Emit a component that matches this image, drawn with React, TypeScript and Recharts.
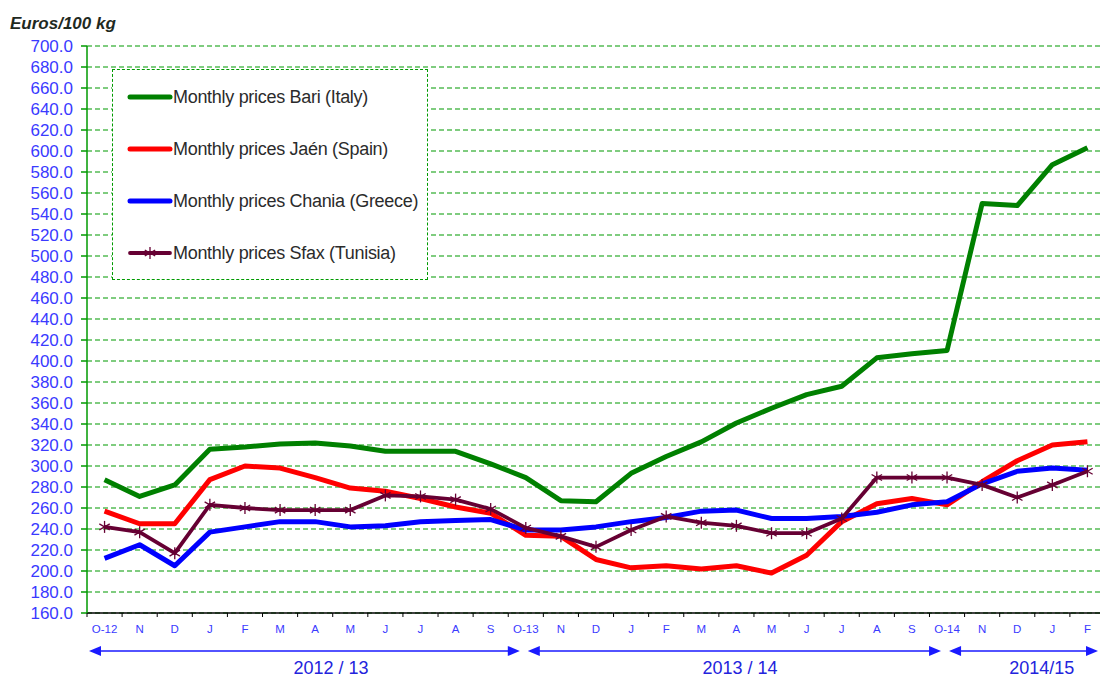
import React from 'react';
import { CartesianGrid, Legend, Line, LineChart, XAxis, YAxis } from 'recharts';

// Monthly olive oil prices, Oct 2012 - Feb 2015
const months = [
  '2012-10', '2012-11', '2012-12', '2013-01', '2013-02', '2013-03', '2013-04', '2013-05', '2013-06', '2013-07',
  '2013-08', '2013-09', '2013-10', '2013-11', '2013-12', '2014-01', '2014-02', '2014-03', '2014-04', '2014-05',
  '2014-06', '2014-07', '2014-08', '2014-09', '2014-10', '2014-11', '2014-12', '2015-01', '2015-02',
];
const tickLabels = [
  'O-12', 'N', 'D', 'J', 'F', 'M', 'A', 'M', 'J', 'J', 'A', 'S',
  'O-13', 'N', 'D', 'J', 'F', 'M', 'A', 'M', 'J', 'J', 'A', 'S',
  'O-14', 'N', 'D', 'J', 'F',
];
const bari = [287, 271, 282, 316, 318, 321, 322, 319, 314, 314, 314, 302, 289, 267, 266, 293, 309, 323, 341, 355, 368, 376, 403, 407, 410, 550, 548, 587, 603];
const jaen = [257, 245, 245, 287, 300, 298, 289, 279, 276, 269, 261, 255, 234, 233, 211, 203, 205, 202, 205, 198, 215, 247, 264, 269, 263, 285, 305, 320, 323];
const chania = [212, 225, 205, 237, 242, 247, 247, 242, 243, 247, 248, 249, 239, 239, 242, 247, 251, 257, 258, 250, 250, 252, 256, 263, 266, 283, 295, 298, 296];
const sfax = [242, 237, 217, 263, 260, 258, 258, 258, 272, 271, 268, 259, 241, 233, 223, 239, 252, 246, 243, 236, 236, 250, 289, 289, 289, 282, 270, 282, 295];
const yTicks = [160, 180, 200, 220, 240, 260, 280, 300, 320, 340, 360, 380, 400, 420, 440, 460, 480, 500, 520, 540, 560, 580, 600, 620, 640, 660, 680, 700];

// marketing years shown under the axis (start / end category index)
const periods = [
  { label: '2012 / 13', from: 0, to: 12, labelAt: 6.45 },
  { label: '2013 / 14', from: 12, to: 24, labelAt: 18.1 },
  { label: '2014/15', from: 24, to: 29, labelAt: 26.7 },
];

const series = [
  { key: 'bari', name: 'Monthly prices Bari (Italy)', color: '#008000', width: 5 },
  { key: 'jaen', name: 'Monthly prices Jaén (Spain)', color: '#ff0000', width: 5 },
  { key: 'chania', name: 'Monthly prices Chania (Greece)', color: '#0000ff', width: 5 },
  { key: 'sfax', name: 'Monthly prices Sfax (Tunisia)', color: '#660033', width: 3.8 },
];

const data = months.map((m, i) => ({
  month: m,
  bari: bari[i],
  jaen: jaen[i],
  chania: chania[i],
  sfax: sfax[i],
}));

const W = 1110;
const H = 677;
const PLOT_LEFT = 87;
const PLOT_RIGHT = 1105;
const BAND = (PLOT_RIGHT - PLOT_LEFT) / months.length;
const FONT = '"Liberation Sans", Arial, sans-serif';
const GRID = '#009a00';
const BLUE = '#3a3aff';

const center = (i: number) => PLOT_LEFT + BAND * (i + 0.5);

function Star(props: any) {
  const { cx, cy } = props;
  if (cx == null || cy == null) return null;
  const r = 6;
  const d = r * 0.87;
  return (
    <g stroke="#660033" strokeWidth={1.3}>
      <line x1={cx} y1={cy - r} x2={cx} y2={cy + r} />
      <line x1={cx - d} y1={cy - r / 2} x2={cx + d} y2={cy + r / 2} />
      <line x1={cx - d} y1={cy + r / 2} x2={cx + d} y2={cy - r / 2} />
    </g>
  );
}

function MonthTick(props: any) {
  const { x, y, payload, index } = props;
  const i = payload?.index ?? index;
  return (
    <g>
      <line x1={x - BAND / 2} y1={y} x2={x - BAND / 2} y2={y + 4} stroke="#000" />
      {i === months.length - 1 && <line x1={x + BAND / 2} y1={y} x2={x + BAND / 2} y2={y + 4} stroke="#000" />}
      <text x={x} y={y + 16} dy="0.355em" textAnchor="middle" fill={BLUE} fontSize={11.5} fontFamily={FONT}>
        {tickLabels[i]}
      </text>
    </g>
  );
}

function LegendBox() {
  return (
    <div
      style={{
        width: 316,
        height: 211,
        boxSizing: 'border-box',
        background: '#fff',
        border: `1px dashed ${GRID}`,
        position: 'relative',
        fontFamily: FONT,
      }}
    >
      {series.map((s, i) => (
        <div key={s.key} style={{ position: 'absolute', left: 14, top: 27 + i * 52 - 10, height: 20, display: 'flex', alignItems: 'center' }}>
          <svg width={46} height={20}>
            <line x1={3} y1={10} x2={43} y2={10} stroke={s.color} strokeWidth={s.width} strokeLinecap="round" />
            {s.key === 'sfax' && <Star cx={23} cy={10} />}
          </svg>
          <span style={{ fontSize: 18, color: '#2b2b2b', whiteSpace: 'nowrap', letterSpacing: -0.3 }}>{s.name}</span>
        </div>
      ))}
    </div>
  );
}

function Arrow({ x1, x2, y }: { x1: number; x2: number; y: number }) {
  const c = '#1a1aff';
  return (
    <g>
      <line x1={x1 + 8} y1={y} x2={x2 - 8} y2={y} stroke={c} strokeWidth={1.5} />
      <polygon points={`${x1},${y} ${x1 + 12},${y - 5} ${x1 + 12},${y + 5}`} fill={c} />
      <polygon points={`${x2},${y} ${x2 - 12},${y - 5} ${x2 - 12},${y + 5}`} fill={c} />
    </g>
  );
}

export default function App() {
  return (
    <div style={{ position: 'absolute', left: 0, top: 0, width: 1100, height: 677, overflow: 'hidden', background: '#fff' }}>
      <LineChart width={W} height={H} data={data} margin={{ top: 46, right: W - PLOT_RIGHT, bottom: 34, left: 0 }}>
        <CartesianGrid vertical={false} stroke={GRID} strokeWidth={1.2} strokeDasharray="5 3" />
        <XAxis
          dataKey="month"
          scale="band"
          interval={0}
          height={30}
          stroke="#000"
          strokeWidth={1.5}
          tickLine={false}
          tickSize={0}
          tickMargin={0}
          tick={<MonthTick />}
        />
        <YAxis
          domain={[160, 700]}
          ticks={yTicks}
          interval={0}
          width={PLOT_LEFT}
          stroke={GRID}
          strokeWidth={1.5}
          tickSize={6}
          tickMargin={8}
          tick={{ fill: BLUE, fontSize: 17, fontFamily: FONT }}
          tickFormatter={(v: number) => v.toFixed(1)}
        />
        <Legend
          layout="vertical"
          align="center"
          verticalAlign="middle"
          wrapperStyle={{ left: 112, top: 69, width: 316, height: 211 }}
          content={() => <LegendBox />}
        />
        {series.map((s) => (
          <Line
            key={s.key}
            dataKey={s.key}
            name={s.name}
            type="linear"
            stroke={s.color}
            strokeWidth={s.width}
            strokeLinejoin="round"
            dot={s.key === 'sfax' ? <Star /> : false}
            activeDot={false}
            isAnimationActive={false}
          />
        ))}
      </LineChart>
      <svg width={1100} height={677} style={{ position: 'absolute', left: 0, top: 0, pointerEvents: 'none' }}>
        <text x={10} y={29} fontFamily={FONT} fontSize={17} fontWeight="bold" fontStyle="italic" fill="#1f2a1f">
          Euros/100 kg
        </text>
        {periods.map((p, i) => {
          const x1 = i === 0 ? PLOT_LEFT + 2 : center(p.from) + 2;
          const x2 = p.to >= months.length ? 1098 : center(p.to) - 6;
          return (
            <g key={p.label}>
              <Arrow x1={x1} x2={x2} y={651} />
              <text x={center(p.labelAt)} y={674} textAnchor="middle" fontFamily={FONT} fontSize={18} fill="#2323dd">
                {p.label}
              </text>
            </g>
          );
        })}
      </svg>
    </div>
  );
}
